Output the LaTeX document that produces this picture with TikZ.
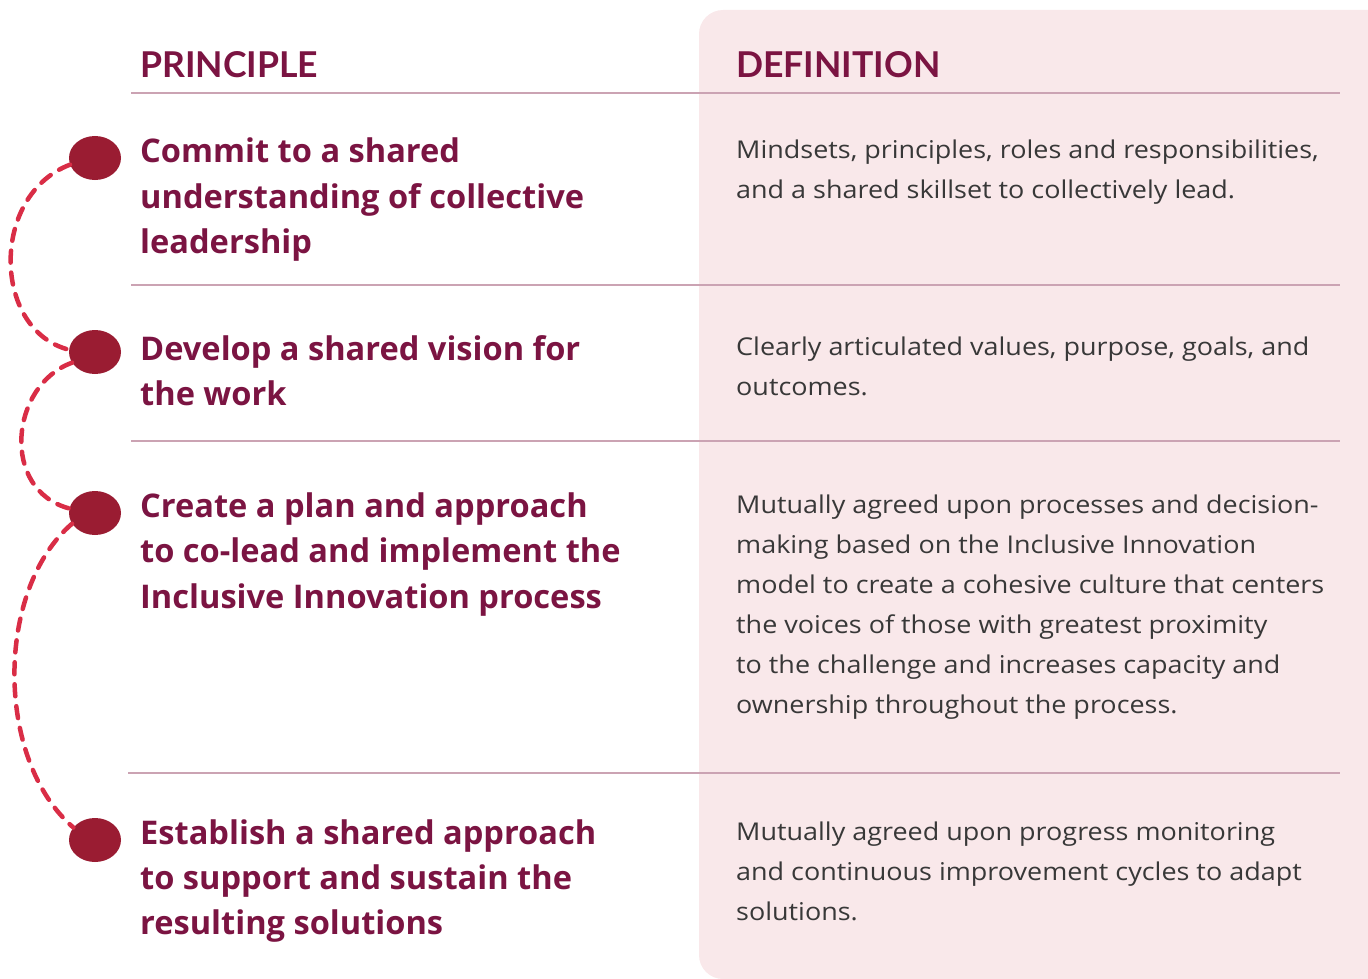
\documentclass[tikz,border=0pt]{standalone}
\usepackage{fontspec}
\setmainfont{Lato}
\newfontfamily\prfont{Open Sans}
\newfontfamily\bodyfont{Open Sans}[FakeStretch=1.1]
\usetikzlibrary{shapes.geometric}
\definecolor{headc}{HTML}{7B1442}
\definecolor{dotc}{HTML}{9A1C32}
\definecolor{dashc}{HTML}{D92D46}
\definecolor{rulec}{HTML}{CBA3B3}
\definecolor{panelc}{HTML}{F9E8EA}
\definecolor{defc}{HTML}{383838}
\tikzset{
  hd/.style={anchor=base west, inner sep=0pt, text=headc, font=\fontsize{35.6}{40}\selectfont\bfseries},
  pr/.style={anchor=base west, inner sep=0pt, text=headc, font=\prfont\fontsize{32.6}{45}\selectfont\bfseries},
  df/.style={anchor=base west, inner sep=0pt, text=defc, font=\bodyfont\fontsize{24.5}{40}\selectfont},
  dotnode/.style={ellipse, fill=dotc, minimum width=52pt, minimum height=44pt, inner sep=0pt},
  rulel/.style={draw=rulec, line width=1.5pt},
  link/.style={draw=dashc, line width=4.5pt, line cap=round, dash pattern=on 12pt off 10pt}
}
\begin{document}
\begin{tikzpicture}[x=1pt,y=-1pt]
\useasboundingbox (0,0) rectangle (1368,979);
\clip (0,0) rectangle (1368,979);
% panel
\fill[panelc, rounded corners=24pt] (699,10) rectangle (1420,979);
% rules
\coordinate (r0a) at (131,93);  \coordinate (r0b) at (1340,93);
\coordinate (r1a) at (131,285); \coordinate (r1b) at (1340,285);
\coordinate (r2a) at (131,441); \coordinate (r2b) at (1340,441);
\coordinate (r3a) at (128,773); \coordinate (r3b) at (1340,773);
\draw[rulel] (r0a) -- (r0b);
\draw[rulel] (r1a) -- (r1b);
\draw[rulel] (r2a) -- (r2b);
\draw[rulel] (r3a) -- (r3b);
% headers
\node[hd] (hp) at (140,78) {PRINCIPLE};
\node[hd] (hd) at (736,78) {DEFINITION};
% dots
\node[dotnode] (d1) at (95,158) {};
\node[dotnode] (d2) at (95,352) {};
\node[dotnode] (d3) at (95,513) {};
\node[dotnode] (d4) at (95,840) {};
% dashed links
\draw[link] (d1.195) .. controls (-10,195) and (-8,330) .. (d2.175);
\draw[link] (d2.205) .. controls (10,385) and (0,490) .. (d3.170);
\draw[link] (d3.205) .. controls (-5,590) and (-5,760) .. (d4.150);
% principles
\node[pr] (p1a) at (140,163) {Commit to a shared};
\node[pr] (p1b) at (140,208) {understanding of collective};
\node[pr] (p1c) at (140,253) {leadership};
\node[pr] (p2a) at (140,360) {Develop a shared vision for};
\node[pr] (p2b) at (140,405) {the work};
\node[pr] (p3a) at (140,517) {Create a plan and approach};
\node[pr] (p3b) at (140,562) {to co-lead and implement the};
\node[pr] (p3c) at (140,608) {Inclusive Innovation process};
\node[pr] (p4a) at (140,844) {Establish a shared approach};
\node[pr] (p4b) at (140,889) {to support and sustain the};
\node[pr] (p4c) at (140,934) {resulting solutions};
% definitions
\node[df] (q1a) at (736,158) {Mindsets, principles, roles and responsibilities,};
\node[df] (q1b) at (736,198) {and a shared skillset to collectively lead.};
\node[df] (q2a) at (736,355) {Clearly articulated values, purpose, goals, and};
\node[df] (q2b) at (736,395) {outcomes.};
\node[df] (q3a) at (736,513) {Mutually agreed upon processes and decision-};
\node[df] (q3b) at (736,553) {making based on the Inclusive Innovation};
\node[df] (q3c) at (736,593) {model to create a cohesive culture that centers};
\node[df] (q3d) at (736,633) {the voices of those with greatest proximity};
\node[df] (q3e) at (736,673) {to the challenge and increases capacity and};
\node[df] (q3f) at (736,713) {ownership throughout the process.};
\node[df] (q4a) at (736,840) {Mutually agreed upon progress monitoring};
\node[df] (q4b) at (736,880) {and continuous improvement cycles to adapt};
\node[df] (q4c) at (736,920) {solutions.};
\end{tikzpicture}
\end{document}
